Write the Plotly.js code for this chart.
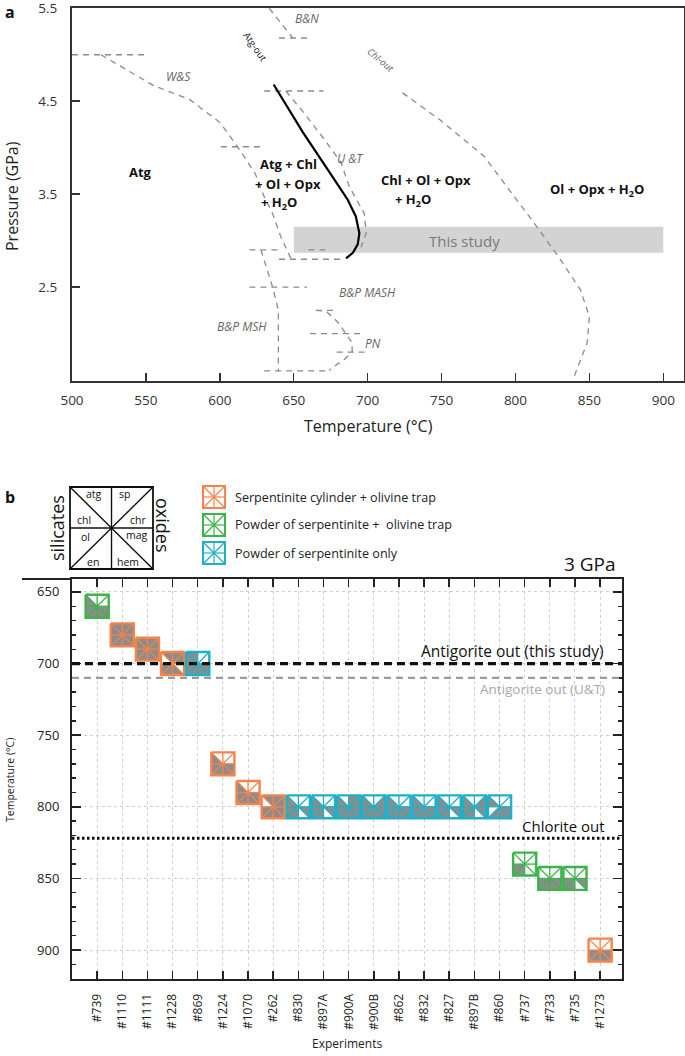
<!DOCTYPE html>
<html>
<head>
<meta charset="utf-8">
<script src="https://cdn.plot.ly/plotly-3.0.1.min.js"></script>
<style>html,body{margin:0;padding:0;background:#fff;}#chart{width:685px;height:1056px;}</style>
</head>
<body>
<div id="chart"></div>
<script>
// ---------------- Panel a data (T in °C, P in GPa) ----------------
const xTicksA = [500, 550, 600, 650, 700, 750, 800, 850, 900];
const yTicksA = [2.5, 3.5, 4.5, 5.5];

const atgOutT = [636.4, 656, 677.4, 686.5, 692, 694.4, 693.3, 690, 685.4];
const atgOutP = [4.68, 4.17, 3.66, 3.44, 3.26, 3.08, 2.96, 2.87, 2.81];

const wsT = [519.6, 555, 579.4, 600.2, 612, 624, 629.8, 635.7, 641.3, 648];
const wsP = [5.0, 4.67, 4.52, 4.27, 4.01, 3.72, 3.48, 3.29, 3.04, 2.81];

const utT = [644.7, 657.1, 670.7, 682, 687.6, 697.8, 699, 695.5];
const utP = [4.61, 4.37, 4.09, 3.84, 3.58, 3.29, 3.08, 2.93];

const bnT = [633.4, 649.3];
const bnP = [5.5, 5.18];

const mshT = [627.8, 635.7, 639.6, 639.6];
const mshP = [2.9, 2.5, 2.25, 1.6];

const pnT = [665, 672, 680, 685, 689.5, 689.5, 684, 674];
const pnP = [2.25, 2.24, 2.12, 2.0, 1.9, 1.8, 1.72, 1.61];

const chlOutT = [723.6, 748.9, 778.6, 799.3, 811.2, 829, 844, 850, 848.5, 839.5];
const chlOutP = [4.59, 4.30, 3.91, 3.48, 3.22, 2.83, 2.47, 2.18, 1.90, 1.53];

// horizontal dashed segments: pressure, T start, T end
const segP  = [5.0, 5.18, 4.61, 4.01, 2.9, 2.9, 2.8, 2.5, 2.25, 2.0, 1.8, 1.6];
const segT0 = [500, 640, 630, 600.7, 620, 660, 640, 620, 665, 661, 679, 630];
const segT1 = [549, 661, 670, 630, 640, 672, 684, 659, 679, 696, 700, 675];

const studyT = [650, 900];
const studyP = [2.87, 3.15];

// ---------------- Panel b data ----------------
const experiments = ['#739','#1110','#1111','#1228','#869','#1224','#1070','#262','#830','#897A','#900A','#900B','#862','#832','#827','#897B','#860','#737','#733','#735','#1273'];
const temperatures = [660, 680, 690, 700, 700, 770, 790, 800, 800, 800, 800, 800, 800, 800, 800, 800, 800, 840, 850, 850, 900];
// C = serpentinite cylinder + olivine trap, P = powder + olivine trap, S = powder only
const setups = ['P','C','C','C','S','C','C','C','S','S','S','S','S','S','S','S','S','P','P','P','C'];
// phases present (1) in order atg, sp, chl, chr, ol, mag, en, hem
const phases = ['00101111','11111111','11111111','11011011','10101111','00101111','00101111','11011111',
                '00101110','00101110','01111111','00111111','00101111','00101111','00101110','00111110','00100111',
                '00001010','00001111','00001110','00001111'];
const yTicksB = [650, 700, 750, 800, 850, 900];
const refTemps = [700, 710, 822];
const refLabels = ['Antigorite out (this study)', 'Antigorite out (U&T)', 'Chlorite out'];
const setupNames = {C: 'Serpentinite cylinder + olivine trap', P: 'Powder of serpentinite +  olivine trap', S: 'Powder of serpentinite only'};
const keyLabels = ['atg','sp','chl','chr','ol','mag','en','hem'];

// ---------------- styling ----------------
const W = 685, H = 1056;
const FONT = 'Open Sans, Noto Sans, sans-serif';
const colors = {C: '#f4844c', P: '#3cb44b', S: '#1fb0c8'};
const GREY_FILL = '#8c8c8c';
const px = x => x / W;
const py = y => 1 - y / H;
const dashGrey = {color: '#8a8a8a', width: 1.3, dash: '6px,5px'};

const traces = [];
function addLine(xs, ys, line) {
  traces.push({type: 'scatter', mode: 'lines', x: xs, y: ys, xaxis: 'x', yaxis: 'y',
               line: line, hoverinfo: 'skip', showlegend: false});
}
addLine(wsT, wsP, dashGrey);
addLine(utT, utP, dashGrey);
addLine(bnT, bnP, dashGrey);
addLine(mshT, mshP, dashGrey);
addLine(pnT, pnP, dashGrey);
addLine(chlOutT, chlOutP, dashGrey);
segP.forEach((p, i) => addLine([segT0[i], segT1[i]], [p, p], dashGrey));
addLine(atgOutT, atgOutP, {color: '#000', width: 2.2});

// ---------------- panel b glyphs ----------------
const HX = 0.46, HY = 8;
function glyphPoints(cx, cy) {
  return {
    TL: [cx - HX, cy - HY], TM: [cx, cy - HY], TR: [cx + HX, cy - HY],
    LM: [cx - HX, cy], C: [cx, cy], RM: [cx + HX, cy],
    BL: [cx - HX, cy + HY], BM: [cx, cy + HY], BR: [cx + HX, cy + HY]
  };
}
const triDefs = [['TL','TM'], ['TM','TR'], ['TL','LM'], ['TR','RM'], ['LM','BL'], ['RM','BR'], ['BL','BM'], ['BM','BR']];
const fx = [], fy = [];
const border = {C: {x: [], y: []}, P: {x: [], y: []}, S: {x: [], y: []}};
const star = {C: {x: [], y: []}, P: {x: [], y: []}, S: {x: [], y: []}};
experiments.forEach((e, i) => {
  const p = glyphPoints(i, temperatures[i]);
  triDefs.forEach((d, k) => {
    if (phases[i][k] === '1') {
      [p[d[0]], p[d[1]], p.C, p[d[0]]].forEach(q => { fx.push(q[0]); fy.push(q[1]); });
      fx.push(null); fy.push(null);
    }
  });
  const b = border[setups[i]], s = star[setups[i]];
  ['TL','TR','BR','BL','TL'].forEach(k => { b.x.push(p[k][0]); b.y.push(p[k][1]); });
  b.x.push(null); b.y.push(null);
  [['TL','BR'], ['TR','BL'], ['TM','BM'], ['LM','RM']].forEach(pair => {
    s.x.push(p[pair[0]][0], p[pair[1]][0], null);
    s.y.push(p[pair[0]][1], p[pair[1]][1], null);
  });
});
traces.push({type: 'scatter', mode: 'lines', x: fx, y: fy, xaxis: 'x2', yaxis: 'y2', fill: 'toself',
             fillcolor: GREY_FILL, line: {width: 0, color: GREY_FILL}, hoverinfo: 'skip', showlegend: false});
['C','P','S'].forEach(k => {
  traces.push({type: 'scatter', mode: 'lines', x: star[k].x, y: star[k].y, xaxis: 'x2', yaxis: 'y2',
               line: {color: colors[k], width: 1.3}, hoverinfo: 'skip', showlegend: false});
  traces.push({type: 'scatter', mode: 'lines', x: border[k].x, y: border[k].y, xaxis: 'x2', yaxis: 'y2',
               line: {color: colors[k], width: 2.4}, hoverinfo: 'skip', showlegend: false});
});

// ---------------- shapes ----------------
const shapes = [];
shapes.push({type: 'rect', xref: 'x', yref: 'y', x0: studyT[0], x1: studyT[1], y0: studyP[0], y1: studyP[1],
             fillcolor: '#d3d3d3', line: {width: 0}, layer: 'below'});
// reference lines in panel b
const refStyles = [{color: '#111', width: 3.2, dash: '8px,5px'}, {color: '#9a9a9a', width: 2.4, dash: '7px,5px'}, {color: '#111', width: 3, dash: '2.5px,2.5px'}];
refTemps.forEach((t, i) => shapes.push({type: 'line', xref: 'x2 domain', yref: 'y2', x0: 0, x1: 1, y0: t, y1: t, line: refStyles[i], layer: 'above'}));
// top rule extension for panel b
shapes.push({type: 'line', xref: 'paper', yref: 'paper', x0: px(22), x1: px(72), y0: py(579), y1: py(579), line: {color: '#222', width: 2}});

function pixGlyph(x0, y0, x1, y1, color, w1, w2) {
  const cx = (x0 + x1) / 2, cy = (y0 + y1) / 2;
  const L = (a, b, c, d, w) => shapes.push({type: 'line', xref: 'paper', yref: 'paper', x0: px(a), y0: py(b), x1: px(c), y1: py(d), line: {color: color, width: w}});
  L(x0, y0, x1, y1, w2); L(x1, y0, x0, y1, w2); L(cx, y0, cx, y1, w2); L(x0, cy, x1, cy, w2);
  shapes.push({type: 'rect', xref: 'paper', yref: 'paper', x0: px(x0), y0: py(y0), x1: px(x1), y1: py(y1), line: {color: color, width: w1}});
}
// key diagram
pixGlyph(70, 487, 153, 569, '#111', 1.8, 1.4);
// legend icons
const legendRows = [497, 525, 553];
['C','P','S'].forEach((k, i) => pixGlyph(203, legendRows[i] - 11, 225, legendRows[i] + 11, colors[k], 2, 1.2));

// ---------------- annotations ----------------
const ann = [];
function A(text, x, y, opts) {
  ann.push(Object.assign({text: text, xref: 'paper', yref: 'paper', x: px(x), y: py(y), showarrow: false,
                          xanchor: 'center', yanchor: 'middle', font: {family: FONT, size: 13, color: '#222'}}, opts || {}));
}
const bold = (s, c) => ({family: FONT, size: s, color: c || '#111', weight: 'bold'});
const ital = (s) => ({family: FONT, size: s, color: '#666', style: 'italic'});
A('a', 10, 12, {font: bold(16)});
A('b', 10, 497, {font: bold(16)});
// panel a titles
A('Temperature (°C)', 368, 426, {font: {family: FONT, size: 16, color: '#222'}});
A('Pressure (GPa)', 12, 196, {textangle: -90, font: {family: FONT, size: 16, color: '#222'}});
// panel a field labels
A('Atg', 140, 172, {font: bold(13)});
A('Atg + Chl', 288, 164, {font: bold(13)});
A('+ Ol + Opx', 288, 184, {font: bold(13)});
A('+ H<sub>2</sub>O', 279, 203, {font: bold(13)});
A('Chl + Ol + Opx', 426, 180, {font: bold(13)});
A('+ H<sub>2</sub>O', 413, 200, {font: bold(13)});
A('Ol + Opx + H<sub>2</sub>O', 597, 190, {font: bold(13)});
A('W&amp;S', 178, 76, {font: ital(12)});
A('B&amp;N', 307, 18, {font: ital(12)});
A('U &amp;T', 350, 158, {font: ital(12)});
A('B&amp;P MASH', 367, 292, {font: ital(12)});
A('B&amp;P MSH', 242, 327, {font: ital(12)});
A('PN', 373, 343, {font: ital(12)});
A('Atg-out', 256, 47, {textangle: 55, font: {family: FONT, size: 9.5, color: '#111'}});
A('Chl-out', 380, 60, {textangle: 40, font: ital(9.5)});
A('This study', 464, 241, {font: {family: FONT, size: 15, color: '#7a7a7a'}});
// key diagram labels
const keyPos = [[94, 494], [124, 494], [84, 520], [138, 520], [85, 537], [137, 535], [93, 562], [128, 562]];
keyLabels.forEach((t, i) => A(t, keyPos[i][0], keyPos[i][1], {font: {family: FONT, size: 10.5, color: '#111'}}));
A('silicates', 57, 528, {textangle: -90, font: {family: FONT, size: 18, color: '#111'}});
A('oxides', 163, 525, {textangle: 90, font: {family: FONT, size: 18, color: '#111'}});
// legend text
['C','P','S'].forEach((k, i) => A(setupNames[k], 233, legendRows[i], {xanchor: 'left', font: {family: FONT, size: 12.6, color: '#222'}}));
A('3 GPa', 618, 564, {xanchor: 'right', font: {family: FONT, size: 19, color: '#111'}});
// reference line labels
A(refLabels[0], 606, 651, {xanchor: 'right', font: {family: FONT, size: 15.5, color: '#111'}});
A(refLabels[1], 607, 689, {xanchor: 'right', font: {family: FONT, size: 13.5, color: '#a8a8a8'}});
A(refLabels[2], 607, 826, {xanchor: 'right', font: {family: FONT, size: 15, color: '#111'}});
// panel b axis titles
A('Temperature (°C)', 10, 780, {textangle: -90, font: {family: FONT, size: 10.5, color: '#222'}});
A('Experiments', 347, 1043, {font: {family: FONT, size: 12, color: '#222'}});

// ---------------- layout ----------------
const layout = {
  width: W, height: H,
  margin: {l: 0, r: 0, t: 0, b: 0},
  paper_bgcolor: '#fff', plot_bgcolor: 'rgba(0,0,0,0)',
  showlegend: false,
  font: {family: FONT, color: '#222'},
  xaxis: {
    domain: [px(72), px(684)], range: [500, 914], anchor: 'y',
    tickvals: xTicksA, ticks: 'inside', ticklen: 8, tickwidth: 1.5, tickcolor: '#333',
    showline: true, linecolor: '#333', linewidth: 2, mirror: true,
    showgrid: false, zeroline: false, ticklabelstandoff: 6, ticklabeloverflow: 'allow',
    tickfont: {family: FONT, size: 13.5, color: '#333'}
  },
  yaxis: {
    domain: [py(381), py(8)], range: [1.49, 5.503], anchor: 'x',
    tickvals: yTicksA, tickformat: '.1f', ticks: 'inside', ticklen: 8, tickwidth: 1.5, tickcolor: '#333',
    showline: true, linecolor: '#333', linewidth: 2, mirror: true,
    showgrid: false, zeroline: false, ticklabelstandoff: 10, ticklabeloverflow: 'allow',
    tickfont: {family: FONT, size: 13.5, color: '#333'}
  },
  xaxis2: {
    domain: [px(72), px(622)], range: [-1, 20.87], anchor: 'y2',
    tickmode: 'array', tickvals: experiments.map((e, i) => i), ticktext: experiments, tickangle: -90,
    ticks: 'inside', ticklen: 8, tickwidth: 1.5, tickcolor: '#222',
    showline: true, linecolor: '#222', linewidth: 2, mirror: 'ticks',
    showgrid: true, gridcolor: '#cfcfcf', gridwidth: 1, griddash: 'dot', zeroline: false,
    ticklabelstandoff: 8, ticklabeloverflow: 'allow', tickfont: {family: FONT, size: 12, color: '#222'}
  },
  yaxis2: {
    domain: [py(979), py(579)], range: [920.2, 641], anchor: 'x2',
    tickvals: yTicksB, ticks: 'inside', ticklen: 9, tickwidth: 1.6, tickcolor: '#222',
    minor: {dtick: 10, tick0: 650, ticks: 'inside', ticklen: 4, tickwidth: 1.4, tickcolor: '#222', showgrid: false},
    showline: true, linecolor: '#222', linewidth: 2, mirror: 'ticks',
    showgrid: true, gridcolor: '#cfcfcf', gridwidth: 1, griddash: 'dot', zeroline: false,
    ticklabelstandoff: 8, ticklabeloverflow: 'allow', tickfont: {family: FONT, size: 13, color: '#222'}
  },
  shapes: shapes,
  annotations: ann
};
Plotly.newPlot('chart', traces, layout, {staticPlot: true, displayModeBar: false});
</script>
</body>
</html>
